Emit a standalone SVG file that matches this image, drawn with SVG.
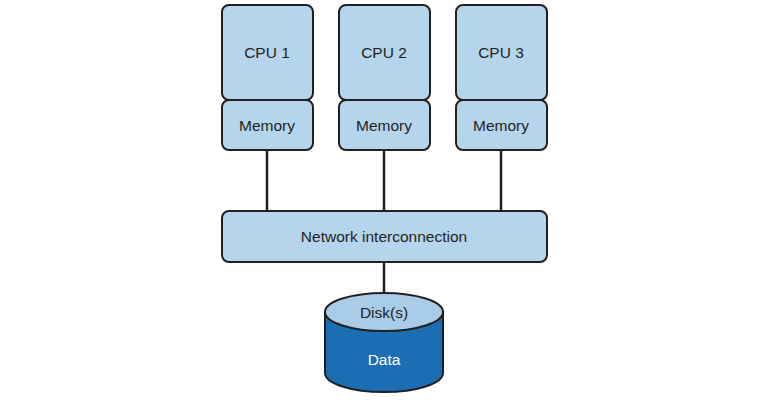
<svg xmlns="http://www.w3.org/2000/svg" width="768" height="403" viewBox="0 0 768 403">
<style>
.box{fill:#b4d5ec;stroke:#231f20;stroke-width:2}
.t{font-family:"Liberation Sans",Arial,sans-serif;font-size:15.5px;fill:#231f20;text-anchor:middle}
.w{fill:#ffffff}
.c{stroke:#231f20;stroke-width:2.5;fill:none}
</style>
<rect width="768" height="403" fill="#ffffff"/>
<g id="connectors">
<line class="c" x1="267" y1="150" x2="267" y2="211"/>
<line class="c" x1="384" y1="150" x2="384" y2="211"/>
<line class="c" x1="501" y1="150" x2="501" y2="211"/>
<line class="c" x1="384" y1="262" x2="384" y2="294"/>
</g>
<g id="cpu1">
<rect class="box" x="222" y="5" width="91" height="95" rx="7"/>
<text class="t" x="267" y="58">CPU 1</text>
</g>
<g id="mem1">
<rect class="box" x="222" y="100" width="91" height="50" rx="7"/>
<text class="t" x="267" y="131">Memory</text>
</g>
<g id="cpu2">
<rect class="box" x="339" y="5" width="91" height="95" rx="7"/>
<text class="t" x="384" y="58">CPU 2</text>
</g>
<g id="mem2">
<rect class="box" x="339" y="100" width="91" height="50" rx="7"/>
<text class="t" x="384" y="131">Memory</text>
</g>
<g id="cpu3">
<rect class="box" x="456" y="5" width="91" height="95" rx="7"/>
<text class="t" x="501" y="58">CPU 3</text>
</g>
<g id="mem3">
<rect class="box" x="456" y="100" width="91" height="50" rx="7"/>
<text class="t" x="501" y="131">Memory</text>
</g>
<g id="network">
<rect class="box" x="222" y="211" width="325" height="51" rx="7"/>
<text class="t" x="384" y="242">Network interconnection</text>
</g>
<g id="disk">
<path d="M325,312 L325,373 A59,19 0 0 0 443,373 L443,312 Z" fill="#1b6eb4" stroke="#231f20" stroke-width="2"/>
<ellipse cx="384" cy="312" rx="59" ry="19" fill="#a9cde8" stroke="#231f20" stroke-width="2"/>
<text class="t" x="384" y="318">Disk(s)</text>
<text class="t w" x="384" y="365">Data</text>
</g>
</svg>
